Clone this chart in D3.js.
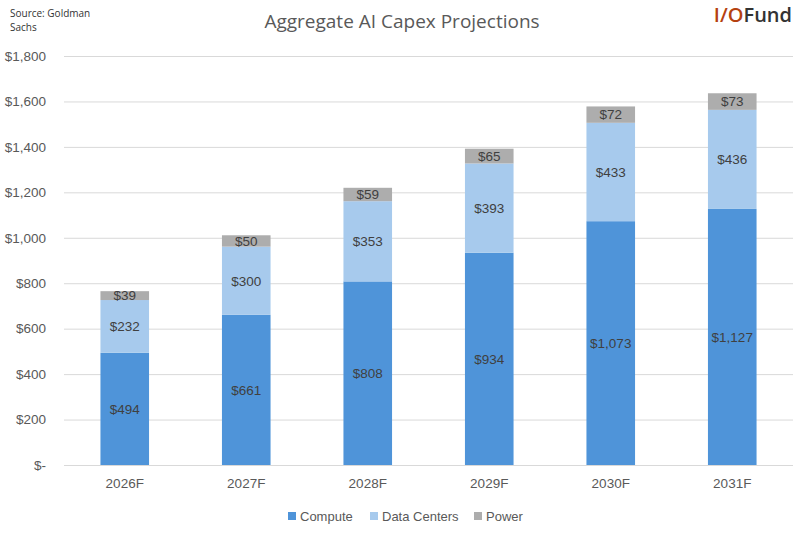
<!DOCTYPE html>
<html>
<head>
<meta charset="utf-8">
<script src="https://cdn.jsdelivr.net/npm/d3@7"></script>
<style>
  body { margin: 0; background: #fff; }
  svg text { font-family: "Liberation Sans", Arial, sans-serif; }
  svg text.soft { font-family: "Open Sans", "Noto Sans", sans-serif; }
</style>
</head>
<body>
<div id="chart"></div>
<script>
// --- Data ---
const years = ["2026F", "2027F", "2028F", "2029F", "2030F", "2031F"];
const compute = [494, 661, 808, 934, 1073, 1127];
const dataCenters = [232, 300, 353, 393, 433, 436];
const power = [39, 50, 59, 65, 72, 73];
const seriesNames = ["Compute", "Data Centers", "Power"];
const yTicks = [0, 200, 400, 600, 800, 1000, 1200, 1400, 1600, 1800];

const colors = { "Compute": "#4f94d9", "Data Centers": "#a7caed", "Power": "#adadad" };

// --- Layout ---
const width = 811, height = 536;
const margin = { top: 56, right: 18, bottom: 71, left: 64 };

const rows = years.map((y, i) => ({
  year: y,
  "Compute": compute[i],
  "Data Centers": dataCenters[i],
  "Power": power[i]
}));

const stack = d3.stack().keys(seriesNames)(rows);

const svg = d3.select("#chart").append("svg")
  .attr("width", width)
  .attr("height", height);

const x = d3.scaleBand()
  .domain(years)
  .range([margin.left, width - margin.right])
  .paddingInner(0.6)
  .paddingOuter(0.3);

const y = d3.scaleLinear()
  .domain([0, 1800])
  .range([height - margin.bottom, margin.top]);

// gridlines
svg.append("g")
  .selectAll("line")
  .data(yTicks)
  .enter().append("line")
  .attr("x1", margin.left)
  .attr("x2", width - margin.right)
  .attr("y1", d => y(d) + 0.5)
  .attr("y2", d => y(d) + 0.5)
  .attr("stroke", "#d9d9d9")
  .attr("stroke-width", 1);

// y labels
svg.append("g")
  .selectAll("text")
  .data(yTicks)
  .enter().append("text")
  .attr("x", 46)
  .attr("y", d => y(d))
  .attr("dy", "0.35em")
  .attr("text-anchor", "end")
  .attr("font-size", 13.5)
  .attr("fill", "#595959")
  .text(d => d === 0 ? "$-" : "$" + d3.format(",")(d));

// bars
const layers = svg.append("g")
  .selectAll("g")
  .data(stack)
  .enter().append("g")
  .attr("fill", d => colors[d.key]);

layers.selectAll("rect")
  .data(d => d)
  .enter().append("rect")
  .attr("x", d => x(d.data.year))
  .attr("y", d => y(d[1]))
  .attr("width", x.bandwidth())
  .attr("height", d => y(d[0]) - y(d[1]));

// data labels
layers.selectAll("text")
  .data(d => d.map(v => ({ v, key: d.key })))
  .enter().append("text")
  .attr("x", d => x(d.v.data.year) + x.bandwidth() / 2)
  .attr("y", d => (y(d.v[0]) + y(d.v[1])) / 2)
  .attr("dy", "0.36em")
  .attr("text-anchor", "middle")
  .attr("font-size", 13.5)
  .attr("fill", "#404040")
  .text(d => "$" + d3.format(",")(d.v.data[d.key]));

// x labels
svg.append("g")
  .selectAll("text")
  .data(years)
  .enter().append("text")
  .attr("x", d => x(d) + x.bandwidth() / 2)
  .attr("y", 483)
  .attr("dy", "0.35em")
  .attr("text-anchor", "middle")
  .attr("font-size", 13.5)
  .attr("fill", "#595959")
  .text(d => d);

// title
svg.append("text")
  .attr("class", "soft")
  .attr("x", 402)
  .attr("y", 28)
  .attr("text-anchor", "middle")
  .attr("font-size", 19)
  .attr("fill", "#595959")
  .text("Aggregate AI Capex Projections");

// source
svg.append("text").attr("class", "soft").attr("x", 10).attr("y", 17).attr("font-size", 10).attr("fill", "#333")
  .text("Source: Goldman");
svg.append("text").attr("class", "soft").attr("x", 10).attr("y", 31).attr("font-size", 10).attr("fill", "#333")
  .text("Sachs");

// logo
const logo = svg.append("text")
  .attr("class", "soft")
  .attr("x", 792)
  .attr("y", 22)
  .attr("text-anchor", "end")
  .attr("font-size", 20)
  .attr("font-weight", 600);
logo.append("tspan").attr("fill", "#b5410f").text("I/O");
logo.append("tspan").attr("fill", "#333333").text("Fund");

// legend
const legendX = [288, 370, 474];
const legend = svg.append("g")
  .selectAll("g")
  .data(seriesNames)
  .enter().append("g")
  .attr("transform", (d, i) => `translate(${legendX[i]}, 512)`);
legend.append("rect")
  .attr("width", 8).attr("height", 8)
  .attr("fill", d => colors[d]);
legend.append("text")
  .attr("x", 12).attr("y", 4)
  .attr("dy", "0.35em")
  .attr("font-size", 13)
  .attr("fill", "#595959")
  .text(d => d);
</script>
</body>
</html>
